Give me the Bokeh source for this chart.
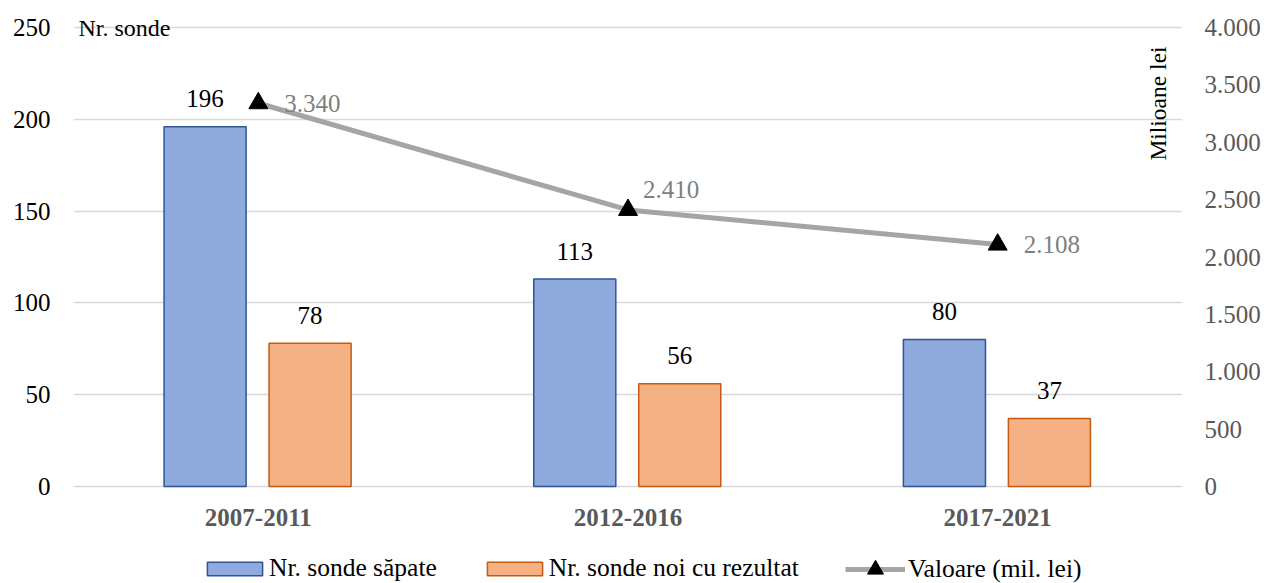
from math import pi

from bokeh.plotting import figure
from bokeh.models import (ColumnDataSource, FactorRange, Range1d, LinearAxis,
                          FixedTicker, CustomJSTickFormatter, Legend, LegendItem, Label)
from bokeh.transform import dodge
from bokeh.core.properties import value
from bokeh.embed import file_html
from bokeh.resources import INLINE

# ---- data -------------------------------------------------------------
periods = ["2007-2011", "2012-2016", "2017-2021"]
sonde_sapate = [196, 113, 80]          # Nr. sonde săpate
sonde_rezultat = [78, 56, 37]          # Nr. sonde noi cu rezultat
valoare = [3340, 2410, 2108]           # Valoare (mil. lei)

left_ticks = [0, 50, 100, 150, 200, 250]
right_ticks = [0, 500, 1000, 1500, 2000, 2500, 3000, 3500, 4000]
left_max, right_max = 250, 4000


def ro_number(v):
    """Format an integer with '.' as thousands separator."""
    return f"{v:,}".replace(",", ".")


FONT = "Liberation Serif"
BLUE_FILL, BLUE_LINE = "#8FAADC", "#2F5597"
ORANGE_FILL, ORANGE_LINE = "#F4B183", "#C55A11"
LINE_GREY = "#A5A5A5"

# Layout: the value area is 459 px tall, starting 27 px below the top; the
# frame also covers the 27 px above it and the 97 px under the zero line so
# the captions, category labels and legend can be drawn there.
W, H = 1266, 583
ABOVE, AREA_H, BELOW = 27, 459, 97
left_lo = -left_max * BELOW / AREA_H
left_hi = left_max * (1 + ABOVE / AREA_H)
right_lo = -right_max * BELOW / AREA_H
right_hi = right_max * (1 + ABOVE / AREA_H)

source = ColumnDataSource(dict(
    period=periods,
    sapate=sonde_sapate,
    rezultat=sonde_rezultat,
    valoare=valoare,
    zero=[0] * len(periods),
    sapate_lbl=[str(v) for v in sonde_sapate],
    rezultat_lbl=[str(v) for v in sonde_rezultat],
    valoare_lbl=[ro_number(v) for v in valoare],
))

p = figure(
    x_range=FactorRange(*periods, range_padding=0),
    y_range=Range1d(left_lo, left_hi),
    width=W, height=H,
    output_backend="svg", toolbar_location=None,
    min_border_left=73, min_border_right=84,
    min_border_top=0, min_border_bottom=0,
)
p.outline_line_color = None
p.background_fill_color = "white"
p.border_fill_color = "white"

# ---- grid ---------------------------------------------------------------
p.xgrid.visible = False
p.ygrid.ticker = FixedTicker(ticks=left_ticks)
p.ygrid.grid_line_color = "#D9D9D9"
p.ygrid.grid_line_width = 1.5

# ---- axes ---------------------------------------------------------------
p.xaxis.visible = False

p.yaxis.ticker = FixedTicker(ticks=left_ticks)
p.yaxis.axis_line_color = None
p.yaxis.major_tick_line_color = None
p.yaxis.minor_tick_line_color = None
p.yaxis.major_label_standoff = 17
p.yaxis.major_label_text_font = FONT
p.yaxis.major_label_text_font_size = "25px"
p.yaxis.major_label_text_color = "black"

p.extra_y_ranges = {"val": Range1d(right_lo, right_hi)}
right_axis = LinearAxis(
    y_range_name="val",
    ticker=FixedTicker(ticks=right_ticks),
    formatter=CustomJSTickFormatter(code="""
        return tick >= 1000
            ? Math.floor(tick / 1000) + '.' + String(tick % 1000).padStart(3, '0')
            : String(tick);
    """),
)
right_axis.axis_line_color = None
right_axis.major_tick_line_color = None
right_axis.minor_tick_line_color = None
right_axis.major_label_standoff = 16
right_axis.major_label_text_font = FONT
right_axis.major_label_text_font_size = "25px"
right_axis.major_label_text_color = "#595959"
p.add_layout(right_axis, "right")

# category labels under the zero line
p.text(x="period", y="zero", text="period", source=source, y_offset=31,
       text_align="center", text_baseline="middle",
       text_font=value(FONT), text_font_size="25px", text_font_style="bold",
       text_color="#595959")

# ---- bars -----------------------------------------------------------------
bar_w = 0.222
x_blue = dodge("period", -0.144, range=p.x_range)
x_orange = dodge("period", 0.14, range=p.x_range)

bars_sapate = p.vbar(x=x_blue, top="sapate", width=bar_w, source=source,
                     fill_color=BLUE_FILL, line_color=BLUE_LINE, line_width=1.5)
bars_rezultat = p.vbar(x=x_orange, top="rezultat", width=bar_w, source=source,
                       fill_color=ORANGE_FILL, line_color=ORANGE_LINE, line_width=1.5)

for xs, col in ((x_blue, "sapate"), (x_orange, "rezultat")):
    p.text(x=xs, y=col, text=f"{col}_lbl", source=source,
           text_align="center", text_baseline="alphabetic", y_offset=-28,
           text_font=value(FONT), text_font_size="25px", text_color="black")

# ---- value line (secondary axis) --------------------------------------
val_line = p.line(x="period", y="valoare", y_range_name="val", source=source,
                  line_color=LINE_GREY, line_width=5)
val_marks = p.scatter(x="period", y="valoare", y_range_name="val", source=source,
                      marker="triangle", size=19, fill_color="black", line_color="black")

# per-point label placement (pixels)
label_dx = [26, 15, 26]
label_dy = [0, -20, 0]
for i, period in enumerate(periods):
    p.text(x=[period], y=[valoare[i]], text=[ro_number(valoare[i])], y_range_name="val",
           x_offset=label_dx[i], y_offset=label_dy[i],
           text_align="left", text_baseline="alphabetic",
           text_font=value(FONT), text_font_size="25px", text_color="#7F7F7F")

# ---- axis captions ---------------------------------------------------------
p.add_layout(Label(x=0.0135, y=249.5, text="Nr. sonde", text_font=FONT,
                   text_font_size="24px", text_color="black",
                   text_align="left", text_baseline="alphabetic"))
p.add_layout(Label(x=2.935, y=208.6, text="Milioane lei", angle=pi / 2, text_font=FONT,
                   text_font_size="23.5px", text_color="black",
                   text_align="center", text_baseline="middle"))

# ---- legends ---------------------------------------------------------------
def style_legend(lg):
    lg.orientation = "horizontal"
    lg.label_text_font = FONT
    lg.label_text_font_size = "25.5px"
    lg.label_text_color = "black"
    lg.border_line_color = None
    lg.background_fill_alpha = 0
    lg.padding = 0
    lg.margin = 0
    lg.click_policy = "none"


bar_legend = Legend(items=[
    LegendItem(label="Nr. sonde săpate", renderers=[bars_sapate]),
    LegendItem(label="Nr. sonde noi cu rezultat", renderers=[bars_rezultat]),
], location=(127, 0))
style_legend(bar_legend)
bar_legend.glyph_width = 69
bar_legend.glyph_height = 17
bar_legend.label_standoff = -5
bar_legend.spacing = 43
p.add_layout(bar_legend)

line_legend = Legend(items=[
    LegendItem(label="Valoare (mil. lei)", renderers=[val_line, val_marks]),
], location=(772, -6))
style_legend(line_legend)
line_legend.glyph_width = 60
line_legend.glyph_height = 40
line_legend.label_standoff = 3
p.add_layout(line_legend)

open("out.html", "w").write(file_html(p, INLINE))
